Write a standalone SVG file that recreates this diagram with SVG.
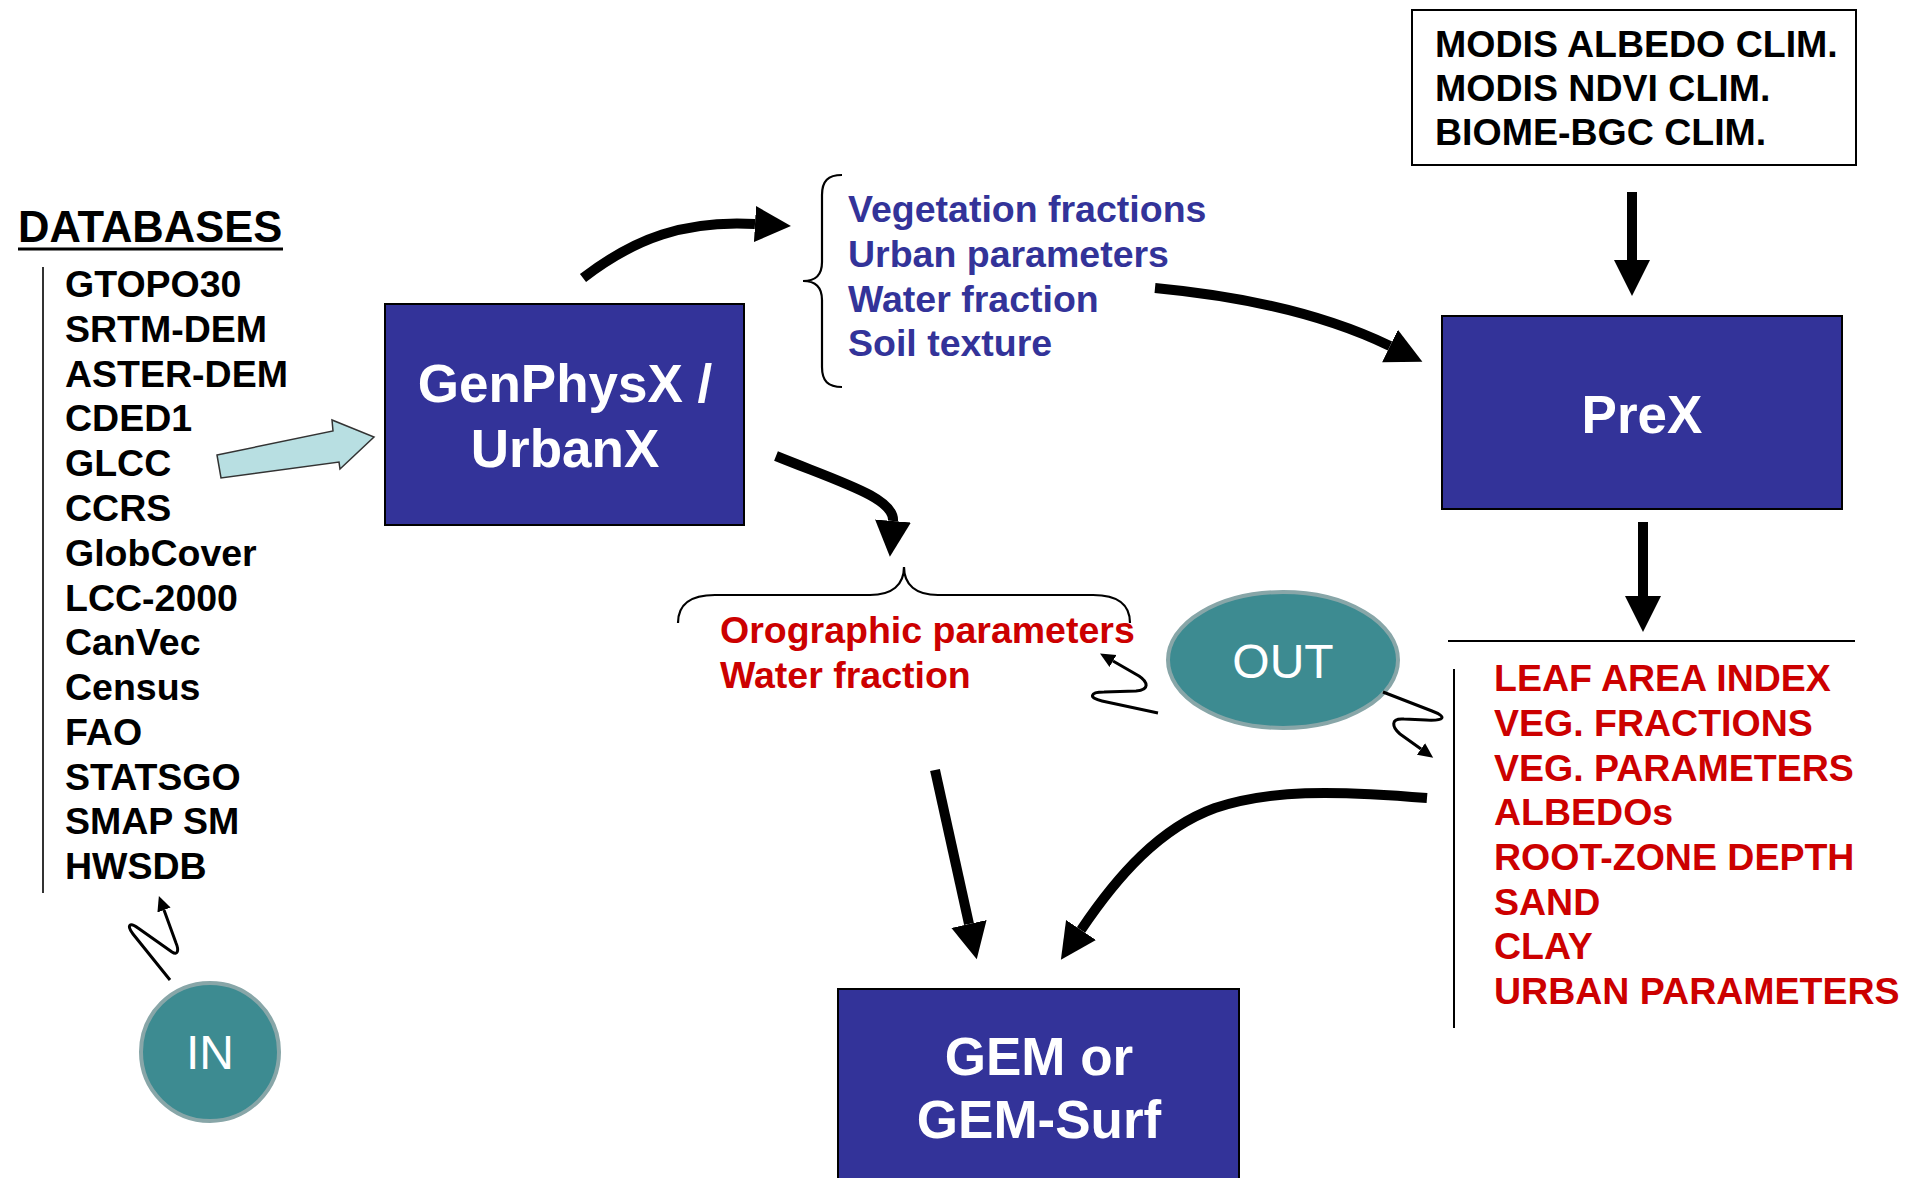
<svg xmlns="http://www.w3.org/2000/svg" width="1907" height="1178" viewBox="0 0 1907 1178">
<style>
  text { font-family: "Liberation Sans", Arial, sans-serif; font-weight: bold; }
  .lst { font-size: 37.5px; }
  .blk { fill: #000000; }
  .blu { fill: #333399; }
  .red { fill: #cc0000; }
  .box { fill: #333399; stroke: #000000; stroke-width: 2; }
  .boxt { fill: #ffffff; font-size: 53px; text-anchor: middle; }
  .ell { fill: #3d8b91; stroke: #88a6a8; stroke-width: 4; }
  .ellt { fill: #ffffff; font-weight: normal; font-size: 48px; text-anchor: middle; }
  .thick { fill: none; stroke: #000000; stroke-width: 10; marker-end: url(#bigHead); }
  .thin { fill: none; stroke: #000000; stroke-width: 3; stroke-linejoin: round; marker-end: url(#smallHead); }
  .rule { fill: none; stroke: #000000; stroke-width: 2; }
  .brace { fill: none; stroke: #000000; stroke-width: 2.2; }
</style>
<defs>
  <marker id="bigHead" markerUnits="userSpaceOnUse" viewBox="0 -20 40 40" refX="0" refY="0" markerWidth="40" markerHeight="40" orient="auto">
    <path d="M0,-18 L36,0 L0,18 z" fill="#000000"/>
  </marker>
  <marker id="smallHead" markerUnits="userSpaceOnUse" viewBox="0 -10 20 20" refX="0" refY="0" markerWidth="20" markerHeight="20" orient="auto">
    <path d="M0,-7 L15,0 L0,7 z" fill="#000000"/>
  </marker>
</defs>
<rect x="0" y="0" width="1907" height="1178" fill="#ffffff"/>

<g id="databases">
  <text x="18" y="242" style="font-size:43.5px" class="blk">DATABASES</text>
  <line x1="18" y1="249" x2="283" y2="249" stroke="#000000" stroke-width="3"/>
  <line x1="43" y1="267" x2="43" y2="893" stroke="#333333" stroke-width="2"/>
  <text class="lst blk" x="65" y="297">GTOPO30</text>
  <text class="lst blk" x="65" y="342">SRTM-DEM</text>
  <text class="lst blk" x="65" y="387">ASTER-DEM</text>
  <text class="lst blk" x="65" y="431">CDED1</text>
  <text class="lst blk" x="65" y="476">GLCC</text>
  <text class="lst blk" x="65" y="521">CCRS</text>
  <text class="lst blk" x="65" y="566">GlobCover</text>
  <text class="lst blk" x="65" y="611">LCC-2000</text>
  <text class="lst blk" x="65" y="655">CanVec</text>
  <text class="lst blk" x="65" y="700">Census</text>
  <text class="lst blk" x="65" y="745">FAO</text>
  <text class="lst blk" x="65" y="790">STATSGO</text>
  <text class="lst blk" x="65" y="834">SMAP SM</text>
  <text class="lst blk" x="65" y="879">HWSDB</text>
</g>

<g id="genphysx">
  <rect class="box" x="385" y="304" width="359" height="221"/>
  <text class="boxt" x="565" y="402">GenPhysX /</text>
  <text class="boxt" x="565" y="467">UrbanX</text>
</g>

<g id="veglist">
  <path class="brace" d="M842,175 C828,175 822,181 822,195 L822,262 C822,276 815,281 803,281 C815,281 822,287 822,300 L822,367 C822,381 828,387 842,387"/>
  <text class="lst blu" x="848" y="222">Vegetation fractions</text>
  <text class="lst blu" x="848" y="267">Urban parameters</text>
  <text class="lst blu" x="848" y="312">Water fraction</text>
  <text class="lst blu" x="848" y="356">Soil texture</text>
</g>

<g id="modis">
  <rect x="1412" y="10" width="444" height="155" fill="#ffffff" stroke="#000000" stroke-width="2"/>
  <text class="lst blk" x="1435" y="57">MODIS ALBEDO CLIM.</text>
  <text class="lst blk" x="1435" y="101">MODIS NDVI CLIM.</text>
  <text class="lst blk" x="1435" y="145">BIOME-BGC CLIM.</text>
</g>

<g id="prex">
  <rect class="box" x="1442" y="316" width="400" height="193"/>
  <text class="boxt" x="1642" y="433">PreX</text>
</g>

<g id="prexout">
  <line class="rule" x1="1448" y1="641" x2="1855" y2="641"/>
  <line class="rule" x1="1454" y1="669" x2="1454" y2="1028"/>
  <text class="lst red" x="1494" y="691">LEAF AREA INDEX</text>
  <text class="lst red" x="1494" y="736">VEG. FRACTIONS</text>
  <text class="lst red" x="1494" y="781">VEG. PARAMETERS</text>
  <text class="lst red" x="1494" y="825">ALBEDOs</text>
  <text class="lst red" x="1494" y="870">ROOT-ZONE DEPTH</text>
  <text class="lst red" x="1494" y="915">SAND</text>
  <text class="lst red" x="1494" y="959">CLAY</text>
  <text class="lst red" x="1494" y="1004">URBAN PARAMETERS</text>
</g>

<g id="orolist">
  <path class="brace" d="M678,623 C678,605 690,595 715,595 L870,595 C892,595 904,585 904,567 C904,585 916,595 938,595 L1093,595 C1118,595 1130,605 1130,623"/>
  <text class="lst red" x="720" y="643">Orographic parameters</text>
  <text class="lst red" x="720" y="688">Water fraction</text>
</g>

<g id="out">
  <ellipse class="ell" cx="1283" cy="660" rx="115" ry="68"/>
  <text class="ellt" x="1283" y="678">OUT</text>
</g>

<g id="in">
  <circle class="ell" cx="210" cy="1052" r="69"/>
  <text class="ellt" x="210" y="1069">IN</text>
</g>

<g id="gem">
  <rect class="box" x="838" y="989" width="401" height="200"/>
  <text class="boxt" x="1039" y="1075">GEM or</text>
  <text class="boxt" x="1039" y="1138">GEM-Surf</text>
</g>

<g id="connectors">
  <polygon points="217,455 333,431 332,420 374,437 340,469 339,462 221,478" fill="#b8dfe2" stroke="#333333" stroke-width="1.5" stroke-linejoin="miter"/>
  <path class="thick" d="M583,278 C635,238 685,220 755,224"/>
  <path class="thick" d="M1155,288 C1240,296 1320,312 1390,346"/>
  <path class="thick" d="M776,456 C840,482 895,498 893,521"/>
  <path class="thick" d="M1632,192 L1632,260"/>
  <path class="thick" d="M1643,522 L1643,596"/>
  <path class="thick" d="M935,770 L969,924"/>
  <path class="thick" d="M1427,798 C1330,790 1270,790 1215,808 C1160,828 1118,875 1081,930"/>
  <path class="thin" d="M1158,713 L1102,701 C1088,698 1090,692 1104,692 L1136,691 C1150,690 1148,682 1139,676 L1113,661"/>
  <path class="thin" d="M1383,692 L1432,711 C1448,717 1444,721 1426,720 L1404,719 C1390,718 1392,727 1400,734 L1421,749"/>
  <path class="thin" d="M170,980 L133,934 C126,925 130,922 138,928 L172,952 C178,956 179,950 176,943 L164,910"/>
</g>
</svg>
